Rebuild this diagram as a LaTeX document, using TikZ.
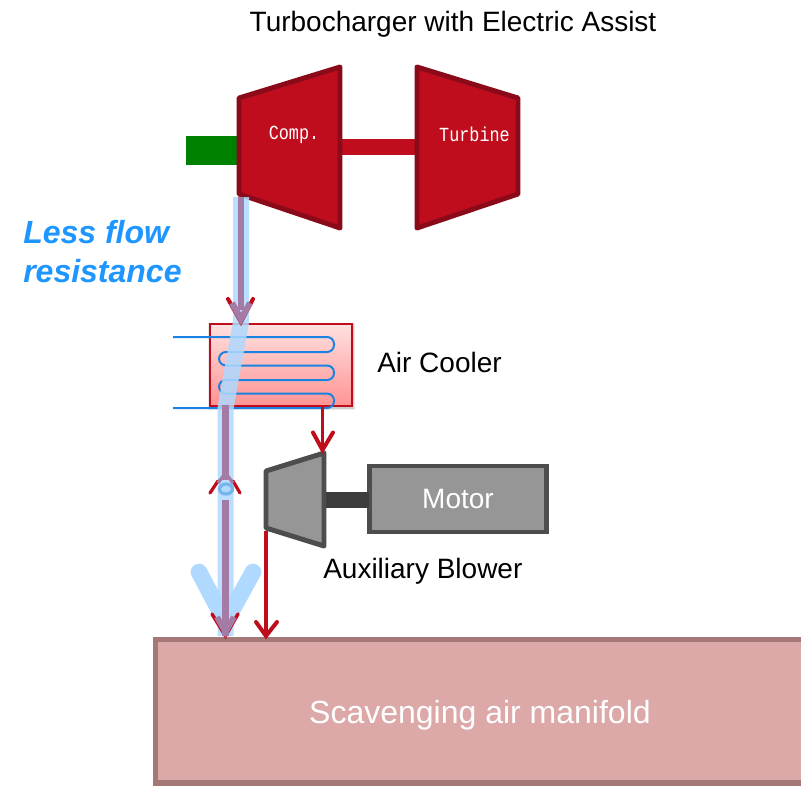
\documentclass[tikz,border=0pt]{standalone}
\usepackage{fontspec}
\setmainfont{Liberation Sans}
\newfontfamily\monof{Liberation Mono}
\definecolor{tcred}{HTML}{C00D1E}
\definecolor{tcdark}{HTML}{8B0A1A}
\definecolor{flowblue}{HTML}{AFD9FF}
\definecolor{flowcore}{HTML}{A47BA4}
\definecolor{coilblue}{HTML}{1A82E0}
\definecolor{txtblue}{HTML}{1E96FF}
\definecolor{greyfill}{HTML}{969696}
\definecolor{greyline}{HTML}{4D4D4D}
\definecolor{manfill}{HTML}{DCA8A8}
\definecolor{manline}{HTML}{A57878}
\tikzset{
  px/.style={font=\fontsize{#1}{#1}\selectfont},
  label/.style={inner sep=0pt,text=black,px=21},
  bluelabel/.style={anchor=west,inner sep=0pt,text=txtblue,font=\bfseries\itshape\fontsize{24}{24}\selectfont},
  redpoly/.style={draw=tcdark,fill=tcred,line width=3.7pt,line join=round},
  greypoly/.style={draw=greyline,fill=greyfill,line width=3.7pt,line join=round},
  redflow/.style={draw=tcred,line width=2.5pt},
  redbarb/.style={draw=tcred,line width=3pt,line cap=round,line join=miter},
  coreflow/.style={draw=flowcore,line width=5pt},
  blueflow/.style={draw=flowblue,line width=12pt,opacity=.85},
  monotext/.style={inner sep=0pt,text=white},
}
\newcommand{\tallmono}[1]{\scalebox{.84}[1]{\monof\fontsize{15}{15}\selectfont #1}}
\begin{document}
\begin{tikzpicture}[x=0.75pt,y=-0.75pt]
\useasboundingbox (0,0) rectangle (801,786);
\node[label] (title) at (453,24) {Turbocharger with Electric Assist};
\fill[green!50!black] (186,136) rectangle (239,165);
\coordinate (compshaft) at (340,147);
\coordinate (turbshaft) at (417,147);
\draw[tcred,line width=12pt] (compshaft) -- (turbshaft);
\draw[redpoly] (239,98) -- (340,67) -- (340,228) -- (239,194) -- cycle;
\draw[redpoly] (417,67) -- (518,98) -- (518,194) -- (417,228) -- cycle;
\node[monotext] (comp) at (294,135) {\tallmono{Comp.}};
\node[monotext] (turb) at (474.5,134) {\tallmono{Turbine}};
\node[bluelabel] (less) at (23,232) {Less flow};
\node[bluelabel] (res) at (23,271) {resistance};
% cooler
\foreach \g/\o in {2/.08,1/.12}
  \fill[black,opacity=\o] (209+1-\g,323+2-\g) rectangle (352+1+\g,406+2+\g);
\node[draw=tcred,line width=1.5pt,outer sep=0pt,top color=red!12,bottom color=red!42!white,minimum width=106.5pt,minimum height=61.5pt,inner sep=0pt] (cooler) at (280.5,364.5) {};
\node[label,anchor=west] (coolerlabel) at (377,362) {Air Cooler};
\coordinate (coilin) at (173,337);
\coordinate (coilout) at (173,408);
\draw[coilblue,line width=1.5pt,rounded corners=5.2pt]
  (coilin) -- (334,337) -- (334,352) -- (219,352) -- (219,365.5) -- (334,365.5) -- (334,380) -- (219,380) -- (219,393.5) -- (334,393.5) -- (334,408) -- (coilout);
% blower and motor
\coordinate (blowershaft) at (324,500);
\node[draw=greyline,fill=greyfill,line width=3.7pt,outer sep=0pt,minimum width=133pt,minimum height=49.5pt,inner sep=0pt,text=white,px=21] (motor) at (458,499) {\raisebox{-2pt}{Motor}};
\draw[draw=greyfill!40!black,line width=12pt] (blowershaft) -- (motor.west |- blowershaft);
\draw[greypoly] (266,471) -- (324,453) -- (324,546) -- (266,528) -- cycle;
\node[label,anchor=west] (blowerlabel) at (323,571) {Auxiliary Blower};
% manifold
\node[draw=manline,fill=manfill,line width=4pt,outer sep=0pt,minimum width=495pt,minimum height=107.5pt,inner sep=0pt,anchor=north west] (manifold) at (155.5,639.5) {};
\node[text=white,inner sep=0pt,px=24] (manlabel) at (480,715) {Scavenging air manifold};
% red flow connectors
\coordinate (coolerout) at (322.5,406);
\coordinate (blowertop) at (322.5,450);
\coordinate (blowerout) at (266,531);
\coordinate (maninb) at (266,636);
\draw[redflow] (coolerout) -- (blowertop);
\draw[redbarb] (313,432.5) -- (blowertop) -- (333,432.5);
\draw[redflow] (blowerout) -- (maninb);
\draw[redbarb] (256,622) -- (maninb) -- (277,622);
% main flow
\coordinate (compout) at (241,197);
\coordinate (coolin) at (241,322);
\coordinate (coolmid) at (225.5,408);
\coordinate (mantop) at (225.5,636);
\draw[blueflow] (compout) -- (coolin) -- (coolmid) -- (mantop);
\draw[draw=flowblue,line width=12.5pt,line cap=round,line join=round] (199,572) -- (225.5,622) -- (253,572);
\draw[redbarb] (228,299) -- (coolin) -- (253,299);
\draw[redbarb,line width=2.6pt] (212,614) -- (mantop) -- (238,614);
\draw[redbarb,line width=2.4pt] (210,493) -- (218,481);
\draw[redbarb,line width=2.4pt] (233,481) -- (240,493);
\draw[coreflow] (compout) -- (241,310);
\draw[flowcore,line width=4.6pt,line join=miter] (232,303) -- (241,319) -- (250,303);
\draw[coreflow] (225.5,405) -- (225.5,480);
\draw[flowcore,line width=2.4pt,line join=miter] (218,483) -- (225.5,473) -- (233,483);
\draw[coreflow] (225.5,500) -- (mantop);
\draw[flowcore,line width=4.4pt,line join=miter] (217,617) -- (225.5,632) -- (234,617);
\draw[draw=coilblue!60!white,fill=flowblue,line width=2.4pt] (226,489) ellipse[x radius=6.5,y radius=5];
\end{tikzpicture}
\end{document}
